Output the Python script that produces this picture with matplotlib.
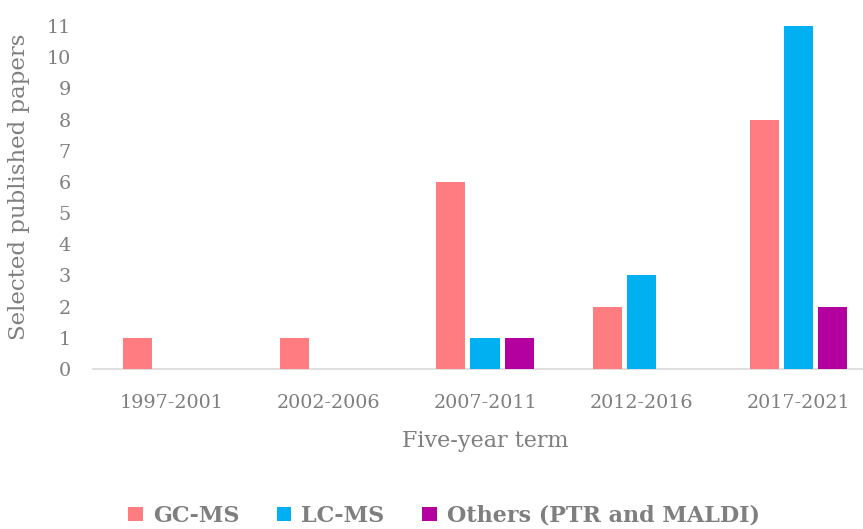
import matplotlib.pyplot as plt
import numpy as np

# Data
terms = ['1997-2001', '2002-2006', '2007-2011', '2012-2016', '2017-2021']
gc_ms = [1, 1, 6, 2, 8]
lc_ms = [0, 0, 1, 3, 11]
others = [0, 0, 1, 0, 2]

series_names = ['GC-MS', 'LC-MS', 'Others (PTR and MALDI)']
colors = ['#FF7C80', '#00B0F0', '#B4009E']
grey = '#7F7F7F'

plt.rcParams['font.family'] = ['DejaVu Serif']

fig = plt.figure(figsize=(8.63, 5.29), dpi=100)
ax = fig.add_axes([93 / 863, 1 - 369 / 529, 784 / 863, 343 / 529])

x = np.arange(len(terms))
step = 0.217
bar_w = 0.185
for i, (vals, name, col) in enumerate(zip([gc_ms, lc_ms, others], series_names, colors)):
    ax.bar(x + (i - 1) * step, vals, width=bar_w, color=col, label=name, zorder=3)

ax.set_xlim(-0.5, 4.5)
ax.set_ylim(0, 11)
ax.set_yticks(range(0, 12))
ax.set_xticks(x)
ax.set_xticklabels(terms)

for side in ['top', 'right', 'left']:
    ax.spines[side].set_visible(False)
ax.spines['bottom'].set_color('#D9D9D9')
ax.spines['bottom'].set_linewidth(1.2)

ax.tick_params(axis='both', length=0, labelcolor=grey, labelsize=13.8)
ax.tick_params(axis='y', pad=16)
ax.tick_params(axis='x', pad=18)

ax.set_xlabel('Five-year term', fontsize=16, color=grey, labelpad=13)
ax.set_ylabel('Selected published papers', fontsize=16.5, color=grey, labelpad=8)
ax.yaxis.set_label_coords(-0.08, 0.53)

leg = fig.legend(loc='center', bbox_to_anchor=(0.5145, 0.025), ncol=3, frameon=False,
                 prop={'weight': 'bold', 'size': 16}, handlelength=0.65, handleheight=0.65,
                 handletextpad=0.45, columnspacing=1.7)
for t in leg.get_texts():
    t.set_color(grey)

fig.savefig('out.png', dpi=100)
